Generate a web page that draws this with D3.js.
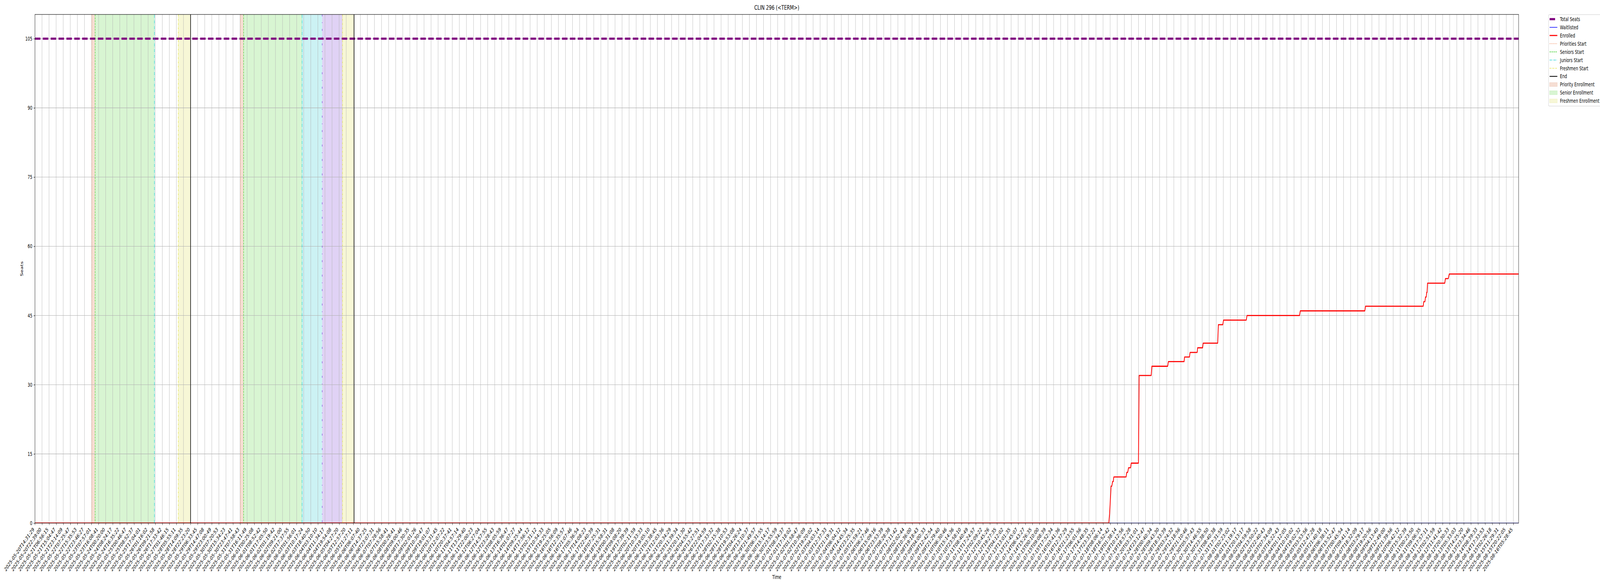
<!DOCTYPE html>
<html>
<head>
<meta charset="utf-8">
<script src="https://cdn.jsdelivr.net/npm/d3@7"></script>
<style>
  html, body { margin: 0; padding: 0; background: #fff; overflow: hidden; }
  svg { font-family: "DejaVu Sans", sans-serif; display: block; width: 100vw; height: 100vh; }
</style>
</head>
<body>
<svg id="chart" viewBox="0 0 6000 1500" preserveAspectRatio="none"></svg>
<script>
// tick labels, one per category position on the x axis
var tickLabels = [
  "2025-05-20T14:31:29","2025-05-20T22:39:00","2025-05-21T06:56:15","2025-05-21T15:04:47","2025-05-21T23:14:09",
  "2025-05-22T07:25:47","2025-05-22T15:35:53","2025-05-22T23:46:27","2025-05-23T07:57:01","2025-05-23T16:08:41",
  "2025-05-24T00:20:00","2025-05-24T08:24:17","2025-05-24T16:35:22","2025-05-25T00:46:47","2025-05-25T08:52:37",
  "2025-05-25T17:04:01","2025-05-26T01:16:02","2025-05-26T09:21:58","2025-05-26T17:33:42","2025-05-27T01:46:15",
  "2025-05-28T05:55:11","2025-05-28T14:09:35","2025-05-28T22:23:20","2025-05-29T06:33:45","2025-05-29T14:47:08",
  "2025-05-29T23:00:49","2025-05-30T07:20:53","2025-05-30T15:34:23","2025-05-30T23:47:41","2025-05-31T07:58:43",
  "2025-05-31T16:11:49","2025-06-01T00:25:08","2025-06-01T08:52:42","2025-06-01T17:05:50","2025-06-02T01:19:42",
  "2025-06-02T09:21:00","2025-06-02T17:37:55","2025-06-03T01:56:01","2025-06-03T10:17:24","2025-06-03T18:40:50",
  "2025-06-04T03:10:10","2025-06-04T11:34:17","2025-06-04T19:54:08","2025-06-05T04:27:20","2025-06-05T12:57:20",
  "2025-06-05T21:27:11","2025-06-06T06:07:40","2025-06-06T14:37:25","2025-06-06T23:07:31","2025-06-07T07:28:56",
  "2025-06-07T15:58:41","2025-06-08T00:28:41","2025-06-08T09:00:46","2025-06-08T17:30:35","2025-06-09T02:01:26",
  "2025-06-09T10:30:47","2025-06-09T19:01:07","2025-06-10T03:31:45","2025-06-10T12:07:22","2025-06-10T20:37:41",
  "2025-06-11T04:57:14","2025-06-11T13:29:40","2025-06-11T22:00:23","2025-06-12T06:27:04","2025-06-12T14:57:55",
  "2025-06-12T23:28:43","2025-06-13T08:05:59","2025-06-13T16:36:47","2025-06-14T01:07:27","2025-06-14T09:25:44",
  "2025-06-14T17:56:12","2025-06-15T02:31:12","2025-06-15T10:54:33","2025-06-15T19:25:05","2025-06-16T03:56:09",
  "2025-06-16T12:35:57","2025-06-16T21:07:46","2025-06-17T05:36:54","2025-06-17T14:08:23","2025-06-17T22:40:39",
  "2025-06-18T07:25:31","2025-06-18T15:58:31","2025-06-19T00:31:08","2025-06-19T09:08:20","2025-06-19T17:39:39",
  "2025-06-20T02:11:59","2025-06-20T10:33:33","2025-06-20T19:05:10","2025-06-21T03:38:45","2025-06-21T12:03:36",
  "2025-06-21T20:34:29","2025-06-25T11:39:34","2025-06-25T20:11:30","2025-06-26T04:55:42","2025-06-26T13:27:51",
  "2025-06-26T22:04:59","2025-06-27T17:33:32","2025-06-28T02:15:38","2025-06-28T11:10:53","2025-06-28T19:53:08",
  "2025-06-29T04:26:24","2025-06-29T13:10:37","2025-06-29T21:49:57","2025-06-30T06:31:55","2025-06-30T15:14:17",
  "2025-06-30T23:55:59","2025-07-01T08:34:37","2025-07-01T17:18:02","2025-07-02T01:58:47","2025-07-02T10:36:09",
  "2025-07-02T19:20:02","2025-07-03T04:03:14","2025-07-03T12:37:33","2025-07-03T21:19:31","2025-07-04T06:04:12",
  "2025-07-04T14:45:34","2025-07-04T23:25:35","2025-07-05T21:59:21","2025-07-06T06:27:46","2025-07-06T15:09:16",
  "2025-07-06T23:53:39","2025-07-07T08:28:38","2025-07-07T17:11:42","2025-07-08T02:02:44","2025-07-08T10:36:00",
  "2025-07-08T19:18:43","2025-07-09T04:00:33","2025-07-09T12:42:54","2025-07-09T21:29:40","2025-07-10T06:30:46",
  "2025-07-10T15:14:36","2025-07-10T23:58:10","2025-07-11T08:40:49","2025-07-11T17:24:57","2025-07-12T02:09:22",
  "2025-07-12T10:45:26","2025-07-12T19:27:35","2025-07-13T04:12:02","2025-07-13T13:01:35","2025-07-13T21:45:07",
  "2025-07-14T06:43:27","2025-07-14T15:26:35","2025-07-15T00:10:00","2025-07-15T09:08:39","2025-07-15T17:52:34",
  "2025-07-16T03:41:36","2025-07-16T12:37:29","2025-07-16T21:23:55","2025-07-17T06:01:56","2025-07-17T14:48:35",
  "2025-07-17T23:33:22","2025-07-18T08:06:14","2025-07-18T16:52:42","2025-07-19T01:38:14","2025-07-19T10:12:56",
  "2025-07-19T18:57:28","2025-07-20T03:31:01","2025-07-24T23:12:47","2025-07-28T00:40:34","2025-07-28T09:43:30",
  "2025-07-28T18:33:39","2025-07-29T03:24:32","2025-07-29T12:18:56","2025-07-29T21:10:46","2025-07-30T05:57:43",
  "2025-07-30T14:46:55","2025-07-30T23:38:50","2025-07-31T08:40:38","2025-07-31T17:31:59","2025-08-01T02:23:02",
  "2025-08-01T11:19:17","2025-08-01T20:13:17","2025-08-02T04:59:58","2025-08-02T13:50:22","2025-08-02T22:40:43",
  "2025-08-03T07:34:09","2025-08-03T16:22:43","2025-08-04T01:12:05","2025-08-04T10:10:02","2025-08-04T19:02:32",
  "2025-08-05T03:53:56","2025-08-05T12:47:28","2025-08-05T21:40:18","2025-08-06T06:38:11","2025-08-06T15:52:47",
  "2025-08-07T00:45:54","2025-08-07T09:41:14","2025-08-07T18:32:09","2025-08-08T03:29:17","2025-08-08T19:20:56",
  "2025-08-09T04:13:40","2025-08-09T12:49:00","2025-08-09T21:39:56","2025-08-10T06:42:12","2025-08-10T15:32:39",
  "2025-08-11T00:23:50","2025-08-11T09:06:35","2025-08-11T17:57:11","2025-08-12T02:51:59","2025-08-12T11:41:42",
  "2025-08-12T20:30:33","2025-08-13T05:33:03","2025-08-13T14:25:20","2025-08-13T23:34:46","2025-08-14T08:39:33",
  "2025-08-14T17:33:53","2025-08-15T02:26:18","2025-08-15T11:29:31","2025-08-15T20:22:05","2025-08-16T05:28:45"
];
var xMax = 209.75;   // last sample sits a little past the last labelled tick

var yTicks = [0, 15, 30, 45, 60, 75, 90, 105];
var totalSeats = 105;

// enrolled series (x = position in tick units)
var enrolledX = [0, 151.81, 151.92, 152.03, 152.13, 152.23, 152.35, 152.44, 152.52,
  154.25, 154.35, 154.48, 154.6, 154.88, 154.98, 156.0, 156.1, 157.8, 157.9,
  160.13, 160.23, 162.45, 162.52, 163.21, 163.3, 164.3, 164.37, 165.07, 165.15,
  167.2, 167.3, 167.92, 168.03, 171.24, 171.35, 178.77, 178.88, 188.0, 188.1,
  196.25, 196.33, 196.5, 196.58, 196.68, 196.75, 196.8, 196.87, 199.3, 199.4,
  199.8, 199.94, 209.75];
var enrolledY = [0, 0, 2, 5, 8, 8, 9, 9, 10,
  10, 11, 11, 12, 12, 13, 13, 32, 32, 34,
  34, 35, 35, 36, 36, 37, 37, 38, 38, 39,
  39, 43, 43, 44, 44, 45, 45, 46, 46, 47,
  47, 48, 48, 49, 49, 50, 50, 52, 52, 53,
  53, 54, 54];

var waitlistedX = [0, 209.75];
var waitlistedY = [0, 0];

// enrollment windows, two rounds
var prioritiesStart = [8.05, 29.05];
var seniorsStart = [8.51, 29.50];
var juniorsStart = [16.89, 37.76];
var sophomoresStart = [40.61];
var freshmenStart = [20.26, 43.48];
var endTimes = [22.0, 45.12];

var priorityShade = [[8.05, 8.51], [29.05, 29.50]];
var seniorShade = [[8.51, 16.89], [29.50, 37.76]];
var juniorShade = [[37.76, 40.61]];
var sophomoreShade = [[40.61, 43.48]];
var freshmenShade = [[20.26, 22.0], [43.48, 45.12]];

var legendLabels = ["Total Seats", "Waitlisted", "Enrolled", "Priorities Start", "Seniors Start",
  "Juniors Start", "Freshmen Start", "End", "Priority Enrollment", "Senior Enrollment", "Freshmen Enrollment"];

// plot box (note: "top" is taken by window.top, so prefix these)
var pL = 131, pR = 5695, pT = 37, pB = 1339;

var svg = d3.select("#chart");
var x = d3.scaleLinear().domain([0, xMax]).range([pL, pR]);
var y = d3.scaleLinear().domain([0, 110.25]).range([pB, pT]);

svg.append("rect").attr("width", 6000).attr("height", 1500).attr("fill", "#fff");

svg.append("defs").append("clipPath").attr("id", "plotclip")
  .append("rect").attr("x", pL).attr("y", pT).attr("width", pR - pL).attr("height", pB - pT);

var plot = svg.append("g").attr("clip-path", "url(#plotclip)");

function shade(spans, color) {
  plot.selectAll(null).data(spans).enter().append("rect")
    .attr("x", d => x(d[0]))
    .attr("y", pT)
    .attr("width", d => x(d[1]) - x(d[0]))
    .attr("height", pB - pT)
    .attr("fill", color);
}
shade(priorityShade, "#f6ded3");
shade(seniorShade, "#d8f5d2");
shade(juniorShade, "#ccf2f4");
shade(sophomoreShade, "#e0d2f5");
shade(freshmenShade, "#f7f7d6");

// grid
plot.selectAll(null).data(d3.range(tickLabels.length)).enter().append("line")
  .attr("x1", d => x(d)).attr("x2", d => x(d))
  .attr("y1", pT).attr("y2", pB)
  .attr("stroke", "#b0b0b0").attr("stroke-width", 1.1);
plot.selectAll(null).data(yTicks).enter().append("line")
  .attr("x1", pL).attr("x2", pR)
  .attr("y1", d => y(d)).attr("y2", d => y(d))
  .attr("stroke", "#b0b0b0").attr("stroke-width", 1.1);

// total seats
plot.append("line")
  .attr("x1", pL).attr("x2", pR)
  .attr("y1", y(totalSeats)).attr("y2", y(totalSeats))
  .attr("stroke", "#800080").attr("stroke-width", 5.56)
  .attr("stroke-dasharray", "20.6,8.9");

var line = d3.line().x(d => x(d[0])).y(d => y(d[1]));

plot.append("path")
  .attr("d", line(d3.zip(waitlistedX, waitlistedY)))
  .attr("fill", "none").attr("stroke", "#0000ff").attr("stroke-width", 1.5);

plot.append("path")
  .attr("d", line(d3.zip(enrolledX, enrolledY)))
  .attr("fill", "none").attr("stroke", "#ff0000").attr("stroke-width", 2.8)
  .attr("stroke-linejoin", "round");

function vlines(vals, color, width, dash) {
  plot.selectAll(null).data(vals).enter().append("line")
    .attr("x1", d => x(d)).attr("x2", d => x(d))
    .attr("y1", pT).attr("y2", pB)
    .attr("stroke", color).attr("stroke-width", width)
    .attr("stroke-dasharray", dash);
}
vlines(prioritiesStart, "#ee6e36", 1.4, "1.4,2.3");
vlines(seniorsStart, "#33cc22", 1.4, "5.1,2.2");
vlines(juniorsStart, "#00ced1", 1.4, "8.9,2.2,1.4,2.2");
vlines(sophomoresStart, "#7030d8", 1.4, "5,15,2,15");
vlines(freshmenStart, "#dede2a", 1.4, "5.5,2,1.4,2");
vlines(endTimes, "#000000", 2.1, null);

// axes
var xAxis = d3.axisBottom(x)
  .tickValues(d3.range(tickLabels.length))
  .tickFormat(i => tickLabels[i])
  .tickSize(4.9).tickSizeOuter(0);
var gx = svg.append("g").attr("transform", "translate(0," + pB + ")").call(xAxis);
gx.select(".domain").remove();
gx.selectAll(".tick line").attr("stroke", "#000").attr("stroke-width", 1.1);
gx.selectAll(".tick text")
  .attr("x", null).attr("y", null).attr("dy", null)
  .attr("text-anchor", "end")
  .attr("transform", "translate(-2.3,17.2) rotate(-45)")
  .attr("font-size", 13.9).attr("font-family", "DejaVu Sans").attr("fill", "#000");

var yAxis = d3.axisLeft(y).tickValues(yTicks).tickSize(4.9).tickSizeOuter(0).tickPadding(4.9);
var gy = svg.append("g").attr("transform", "translate(" + pL + ",0)").call(yAxis);
gy.select(".domain").remove();
gy.selectAll(".tick line").attr("stroke", "#000").attr("stroke-width", 1.1);
gy.selectAll(".tick text").attr("font-size", 13.9).attr("font-family", "DejaVu Sans").attr("fill", "#000");

svg.append("rect")
  .attr("x", pL).attr("y", pT).attr("width", pR - pL).attr("height", pB - pT)
  .attr("fill", "none").attr("stroke", "#000").attr("stroke-width", 1.1);

// titles
svg.append("text").attr("x", (pL + pR) / 2).attr("y", 24.7)
  .attr("text-anchor", "middle").attr("font-size", 16.7).text("CLIN 296 (<TERM>)");
svg.append("text").attr("x", (pL + pR) / 2).attr("y", 1482)
  .attr("text-anchor", "middle").attr("font-size", 13.9).text("Time");
svg.append("text").attr("transform", "translate(86," + ((pT + pB) / 2) + ") rotate(-90)")
  .attr("text-anchor", "middle").attr("font-size", 13.9).text("Seats");

// legend (it runs off the right edge in the original too)
var lg = svg.append("g");
lg.append("rect").attr("x", 5807).attr("y", 37.5).attr("width", 230).attr("height", 234)
  .attr("rx", 3).attr("fill", "#fff").attr("fill-opacity", 0.8)
  .attr("stroke", "#cccccc").attr("stroke-width", 1.1);

var legendStyle = [
  {kind: "line", color: "#800080", w: 5.56, dash: "20.6,8.9"},
  {kind: "line", color: "#0000ff", w: 1.5, dash: null},
  {kind: "line", color: "#ff0000", w: 2.8, dash: null},
  {kind: "line", color: "#ee6e36", w: 1.4, dash: "1.4,2.3"},
  {kind: "line", color: "#33cc22", w: 1.4, dash: "5.1,2.2"},
  {kind: "line", color: "#00ced1", w: 1.4, dash: "8.9,2.2,1.4,2.2"},
  {kind: "line", color: "#dede2a", w: 1.4, dash: "5.5,2,1.4,2"},
  {kind: "line", color: "#000000", w: 2.1, dash: null},
  {kind: "patch", color: "#f6ded3", edge: "#f1cfc1"},
  {kind: "patch", color: "#d8f5d2", edge: "#c8efc0"},
  {kind: "patch", color: "#f7f7d6", edge: "#efefc4"}
];

legendLabels.forEach(function (label, i) {
  var cy = 49 + i * 20.93;
  var s = legendStyle[i];
  if (s.kind === "line") {
    lg.append("line").attr("x1", 5811).attr("x2", 5840).attr("y1", cy).attr("y2", cy)
      .attr("stroke", s.color).attr("stroke-width", s.w).attr("stroke-dasharray", s.dash);
  } else {
    lg.append("rect").attr("x", 5811).attr("y", cy - 4.9).attr("width", 29).attr("height", 9.7)
      .attr("fill", s.color).attr("stroke", s.edge).attr("stroke-width", 1);
  }
  lg.append("text").attr("x", 5850).attr("y", cy + 5).attr("font-size", 13.9).text(label);
});
</script>
</body>
</html>
